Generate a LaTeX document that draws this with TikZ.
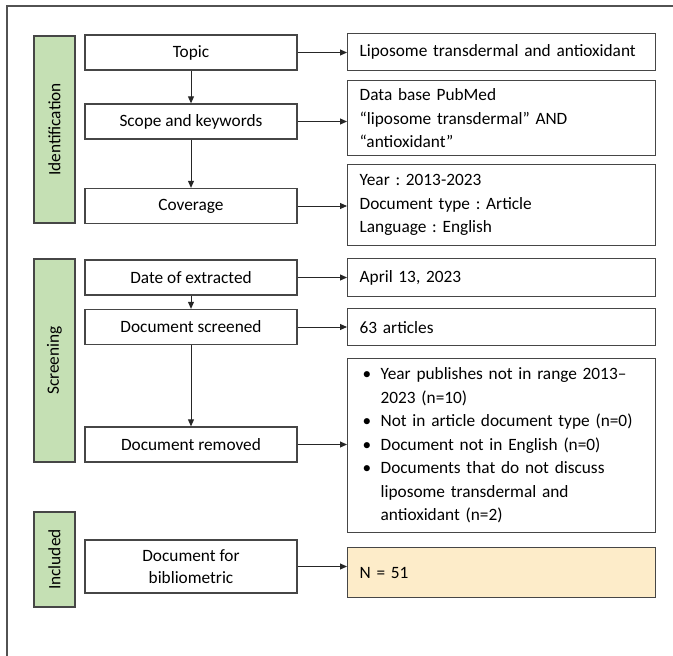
\documentclass[tikz,border=0pt]{standalone}
\usepackage{fontspec}
\setmainfont{Carlito}
\usetikzlibrary{arrows.meta}
\definecolor{stagegreen}{RGB}{197,224,180}
\definecolor{resultfill}{RGB}{253,236,201}
\definecolor{boxline}{RGB}{70,70,70}
\begin{document}
\frenchspacing
\begin{tikzpicture}[x=1pt,y=-1pt,
  box/.style={draw=boxline, line width=1.3pt, fill=white, inner sep=0pt,
    font=\fontsize{17.3}{23.5}\selectfont},
  lbox/.style={box, minimum width=212pt, minimum height=35pt, align=center},
  rbox/.style={box, anchor=north west, inner xsep=12pt, text width=284pt, align=left},
  stage/.style={draw=boxline, line width=1.3pt, fill=stagegreen, rotate=90,
    minimum height=41pt, inner sep=0pt, font=\fontsize{17.3}{20}\selectfont},
  arr/.style={-{Triangle[length=7pt,width=6pt]}, line width=0.9pt, draw=black!85},
  frame/.style={line width=2pt, draw=black!68}]
\useasboundingbox (0,0) rectangle (673,656);
\draw[frame] (7,656) -- (7,6) -- (673,6);

% stage labels
\node[stage, minimum width=187pt] (ident) at (54.5,129.5) {Identification};
\node[stage, minimum width=203pt] (screen) at (54.5,360.5) {Screening};
\node[stage, minimum width=95pt] (incl) at (54.5,559.5) {Included};

% left column
\node[lbox] (topic) at (191,52.5) {Topic};
\node[lbox] (scope) at (191,121.5) {Scope and keywords};
\node[lbox] (cov) at (191,206) {Coverage};
\node[lbox] (date) at (191,277.5) {Date of extracted};
\node[lbox] (scr) at (191,327) {Document screened};
\node[lbox] (rem) at (191,444.5) {Document removed};
\node[lbox, minimum height=53pt, font=\fontsize{17.3}{22}\selectfont] (bib) at (191,566.5) {Document for\\bibliometric};

% right column
\node[rbox, minimum height=37pt] (lipo) at (347,33) {Liposome transdermal and antioxidant};
\node[rbox, minimum height=75pt] (db) at (347,80) {Data base PubMed\\“liposome transdermal” AND\\“antioxidant”};
\node[rbox, minimum height=81pt] (year) at (347,164) {Year : 2013-2023\\Document type : Article\\Language : English};
\node[rbox, minimum height=38pt] (april) at (347,258) {April 13, 2023};
\node[rbox, minimum height=37pt] (art) at (347,308) {63 articles};
\node[rbox, minimum height=174pt] (excl) at (347,358) {%
\makebox[21pt][l]{\hspace{3pt}\textbullet}Year publishes not in range 2013–\\
\hspace*{21pt}2023 (n=10)\\
\makebox[21pt][l]{\hspace{3pt}\textbullet}Not in article document type (n=0)\\
\makebox[21pt][l]{\hspace{3pt}\textbullet}Document not in English (n=0)\\
\makebox[21pt][l]{\hspace{3pt}\textbullet}Documents that do not discuss\\
\hspace*{21pt}liposome transdermal and\\
\hspace*{21pt}antioxidant (n=2)};
\node[rbox, fill=resultfill, minimum height=50pt] (n51) at (347,547) {N = 51};

% vertical arrows
\draw[arr] (topic.south) -- (scope.north);
\draw[arr] (scope.south) -- (cov.north);
\draw[arr] (date.south) -- (scr.north);
\draw[arr] (scr.south) -- (rem.north);

% horizontal arrows
\draw[arr] (topic.east) -- (topic.east -| lipo.west);
\draw[arr] (scope.east) -- (scope.east -| db.west);
\draw[arr] (cov.east) -- (cov.east -| year.west);
\draw[arr] (date.east) -- (date.east -| april.west);
\draw[arr] (scr.east) -- (scr.east -| art.west);
\draw[arr] (rem.east) -- (rem.east -| excl.west);
\draw[arr] (bib.east) -- (bib.east -| n51.west);
\end{tikzpicture}
\end{document}
